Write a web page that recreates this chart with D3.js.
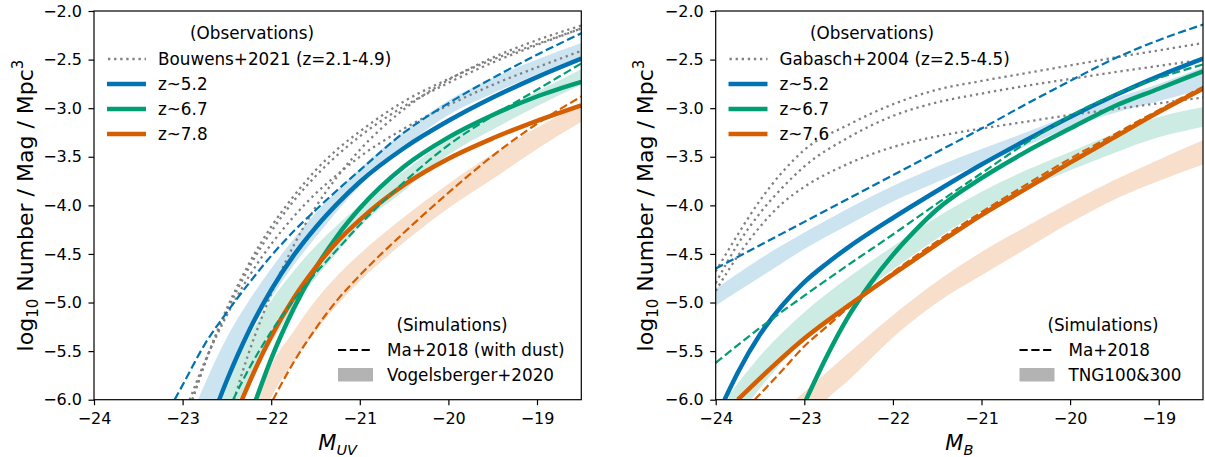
<!DOCTYPE html>
<html>
<head>
<meta charset="utf-8">
<script src="https://cdn.jsdelivr.net/npm/d3@7"></script>
<style>
  html, body { margin: 0; padding: 0; background: #fff; }
  svg { display: block; font-family: "DejaVu Sans", sans-serif; }
</style>
</head>
<body>
<svg id="chart" width="1205" height="457"></svg>
<script>
// ---------------- Left panel: UV luminosity functions (M_UV, log10 phi) ----------------
// Bouwens+2021 Schechter fits at z = 2.1, 2.9, 3.8, 4.9
const uvBouwensZ21 = [[-22.42,-6.00],[-22.35,-5.79],[-22.25,-5.51],[-22.10,-5.14],[-22.00,-4.91],[-21.75,-4.42],[-21.50,-4.02],[-21.25,-3.70],[-21.00,-3.43],[-20.50,-3.01],[-20.00,-2.71],[-19.50,-2.48],[-19.00,-2.30],[-18.50,-2.15]];
const uvBouwensZ29 = [[-22.89,-6.00],[-22.75,-5.63],[-22.50,-5.06],[-22.25,-4.60],[-22.00,-4.22],[-21.75,-3.91],[-21.50,-3.64],[-21.25,-3.42],[-21.00,-3.24],[-20.50,-2.93],[-20.00,-2.70],[-19.50,-2.50],[-19.00,-2.34],[-18.50,-2.18]];
const uvBouwensZ38 = [[-22.89,-6.00],[-22.75,-5.63],[-22.50,-5.09],[-22.25,-4.64],[-22.00,-4.27],[-21.75,-3.96],[-21.50,-3.70],[-21.25,-3.48],[-21.00,-3.29],[-20.50,-2.98],[-20.00,-2.74],[-19.50,-2.53],[-19.00,-2.35],[-18.50,-2.18]];
const uvBouwensZ49 = [[-22.92,-6.00],[-22.75,-5.61],[-22.50,-5.13],[-22.25,-4.73],[-22.00,-4.40],[-21.75,-4.12],[-21.50,-3.88],[-21.25,-3.68],[-21.00,-3.50],[-20.50,-3.21],[-20.00,-2.97],[-19.50,-2.76],[-19.00,-2.58],[-18.50,-2.41]];

// Model fits (solid)
const uvModelZ52 = [[-22.60,-6.03],[-22.50,-5.80],[-22.25,-5.29],[-22.00,-4.87],[-21.75,-4.52],[-21.50,-4.23],[-21.25,-3.98],[-21.00,-3.76],[-20.50,-3.41],[-20.00,-3.13],[-19.50,-2.89],[-19.00,-2.68],[-18.50,-2.49]];
const uvModelZ67 = [[-22.18,-6.02],[-22.00,-5.58],[-21.75,-5.07],[-21.50,-4.65],[-21.25,-4.31],[-21.00,-4.03],[-20.50,-3.60],[-20.00,-3.30],[-19.50,-3.07],[-19.00,-2.88],[-18.50,-2.73]];
const uvModelZ78 = [[-22.33,-6.00],[-22.25,-5.83],[-22.00,-5.35],[-21.75,-4.96],[-21.50,-4.64],[-21.25,-4.37],[-21.00,-4.15],[-20.50,-3.79],[-20.00,-3.52],[-19.50,-3.31],[-19.00,-3.13],[-18.50,-2.97]];

// Ma+2018 (with dust), dashed
const uvMaZ52 = [[-23.09,-6.00],[-23.00,-5.85],[-22.75,-5.43],[-22.50,-5.10],[-22.25,-4.80],[-22.00,-4.52],[-21.75,-4.27],[-21.50,-4.05],[-21.25,-3.84],[-21.00,-3.64],[-20.50,-3.25],[-20.00,-2.95],[-19.50,-2.69],[-19.00,-2.45],[-18.50,-2.23]];
const uvMaZ67 = [[-22.43,-6.00],[-22.25,-5.68],[-22.00,-5.30],[-21.75,-4.98],[-21.50,-4.70],[-21.25,-4.45],[-21.00,-4.20],[-20.50,-3.76],[-20.00,-3.38],[-19.50,-3.08],[-19.00,-2.81],[-18.50,-2.54]];
const uvMaZ78 = [[-21.98,-6.00],[-21.75,-5.62],[-21.50,-5.27],[-21.25,-4.97],[-21.00,-4.72],[-20.50,-4.28],[-20.00,-3.87],[-19.50,-3.49],[-19.00,-3.16],[-18.50,-2.88]];

// Vogelsberger+2020 ranges (upper / lower edge)
const uvVogX52  = [-22.85,-22.75,-22.50,-22.25,-22.00,-21.75,-21.50,-21.00,-20.50,-20.00,-19.50,-19.00,-18.50];
const uvVogHi52 = [-6.05,-5.84,-5.36,-4.98,-4.65,-4.35,-4.08,-3.62,-3.24,-2.92,-2.69,-2.50,-2.33];
const uvVogLo52 = [-6.50,-6.28,-5.76,-5.32,-4.95,-4.62,-4.33,-3.80,-3.40,-3.07,-2.85,-2.65,-2.47];
const uvVogX67  = [-22.60,-22.25,-22.00,-21.75,-21.50,-21.25,-21.00,-20.50,-20.00,-19.50,-19.00,-18.50];
const uvVogHi67 = [-6.05,-5.35,-4.98,-4.68,-4.42,-4.20,-4.00,-3.65,-3.32,-3.06,-2.83,-2.60];
const uvVogLo67 = [-6.50,-5.80,-5.42,-5.05,-4.75,-4.48,-4.22,-3.85,-3.48,-3.22,-2.98,-2.76];
const uvVogX78  = [-22.15,-22.00,-21.75,-21.50,-21.25,-21.00,-20.50,-20.00,-19.50,-19.00,-18.50];
const uvVogHi78 = [-6.00,-5.65,-5.30,-4.98,-4.72,-4.50,-4.12,-3.78,-3.47,-3.20,-2.96];
const uvVogLo78 = [-6.30,-5.98,-5.62,-5.30,-5.02,-4.78,-4.38,-4.03,-3.73,-3.42,-3.14];

// ---------------- Right panel: B-band luminosity functions (M_B, log10 phi) ----------------
// Gabasch+2004 fits, z = 2.5-4.5
const bGabasch1 = [[-24.00,-4.68],[-23.75,-4.30],[-23.50,-3.95],[-23.25,-3.66],[-23.00,-3.43],[-22.50,-3.17],[-22.00,-2.96],[-21.50,-2.81],[-21.00,-2.72],[-20.50,-2.64],[-20.00,-2.56],[-19.50,-2.48],[-19.00,-2.405],[-18.50,-2.33]];
const bGabasch2 = [[-24.00,-4.80],[-23.75,-4.40],[-23.50,-4.08],[-23.25,-3.82],[-23.00,-3.60],[-22.50,-3.30],[-22.00,-3.08],[-21.50,-2.94],[-21.00,-2.85],[-20.50,-2.77],[-20.00,-2.70],[-19.50,-2.63],[-19.00,-2.565],[-18.50,-2.50]];
const bGabasch3 = [[-24.00,-4.88],[-23.75,-4.52],[-23.50,-4.22],[-23.25,-3.98],[-23.00,-3.81],[-22.50,-3.57],[-22.00,-3.40],[-21.50,-3.29],[-21.00,-3.21],[-20.50,-3.14],[-20.00,-3.07],[-19.50,-3.01],[-19.00,-2.95],[-18.50,-2.89]];

const bModelZ52 = [[-23.90,-6.00],[-23.75,-5.72],[-23.50,-5.33],[-23.25,-5.03],[-23.00,-4.79],[-22.75,-4.60],[-22.50,-4.43],[-22.00,-4.13],[-21.50,-3.85],[-21.00,-3.58],[-20.50,-3.33],[-20.00,-3.09],[-19.50,-2.87],[-19.00,-2.67],[-18.50,-2.49]];
const bModelZ67 = [[-22.98,-6.00],[-22.75,-5.56],[-22.50,-5.14],[-22.25,-4.80],[-22.00,-4.51],[-21.75,-4.26],[-21.50,-4.04],[-21.00,-3.72],[-20.50,-3.45],[-20.00,-3.21],[-19.50,-2.98],[-19.00,-2.80],[-18.50,-2.62]];
const bModelZ76 = [[-23.75,-6.00],[-23.50,-5.78],[-23.00,-5.37],[-22.50,-5.03],[-22.00,-4.71],[-21.50,-4.40],[-21.00,-4.10],[-20.50,-3.83],[-20.00,-3.56],[-19.50,-3.30],[-19.00,-3.04],[-18.50,-2.80]];

const bMaZ52 = [[-24.00,-4.65],[-23.50,-4.41],[-23.00,-4.17],[-22.50,-3.93],[-22.00,-3.69],[-21.50,-3.45],[-21.00,-3.21],[-20.50,-2.96],[-20.00,-2.72],[-19.50,-2.49],[-19.00,-2.30],[-18.50,-2.14]];
const bMaZ67 = [[-24.00,-5.62],[-23.50,-5.26],[-23.00,-4.93],[-22.50,-4.61],[-22.00,-4.30],[-21.50,-3.98],[-21.00,-3.67],[-20.50,-3.36],[-20.00,-3.08],[-19.50,-2.86],[-19.00,-2.69],[-18.50,-2.55]];
const bMaZ76 = [[-23.56,-6.00],[-23.25,-5.70],[-23.00,-5.45],[-22.75,-5.25],[-22.50,-5.05],[-22.00,-4.69],[-21.50,-4.37],[-21.00,-4.07],[-20.50,-3.79],[-20.00,-3.52],[-19.50,-3.27],[-19.00,-3.02],[-18.50,-2.78]];

// TNG100&300 ranges (upper / lower edge)
const bTngX52  = [-24.00,-23.50,-23.00,-22.50,-22.00,-21.50,-21.00,-20.50,-20.00,-19.50,-19.00,-18.50];
const bTngHi52 = [-4.86,-4.55,-4.28,-4.03,-3.80,-3.60,-3.42,-3.25,-3.07,-2.90,-2.75,-2.58];
const bTngLo52 = [-5.03,-4.74,-4.45,-4.20,-3.96,-3.76,-3.57,-3.39,-3.20,-3.05,-2.93,-2.80];
const bTngX67  = [-23.85,-23.50,-23.00,-22.50,-22.00,-21.50,-21.00,-20.50,-20.00,-19.50,-19.00,-18.50];
const bTngHi67 = [-5.95,-5.55,-5.10,-4.74,-4.42,-4.12,-3.86,-3.64,-3.45,-3.26,-3.09,-2.99];
const bTngLo67 = [-6.30,-5.88,-5.38,-5.00,-4.66,-4.34,-4.06,-3.84,-3.64,-3.46,-3.30,-3.19];
const bTngX76  = [-23.10,-22.75,-22.50,-22.00,-21.50,-21.00,-20.50,-20.00,-19.50,-19.00,-18.50];
const bTngHi76 = [-6.00,-5.72,-5.52,-5.13,-4.78,-4.48,-4.22,-3.97,-3.74,-3.53,-3.33];
const bTngLo76 = [-6.40,-6.00,-5.80,-5.36,-5.00,-4.72,-4.45,-4.18,-3.94,-3.75,-3.58];

// Axis ticks
const xTicks = [-24, -23, -22, -21, -20, -19];
const yTicks = [-6.0, -5.5, -5.0, -4.5, -4.0, -3.5, -3.0, -2.5, -2.0];

// Colours
const BLUE = "#0173b2", GREEN = "#029e73", ORANGE = "#d55e00", GREY = "#808080";

const svg = d3.select("#chart");
const FONT = "DejaVu Sans";
const LEGEND_FS = 16.8;

function zip(xs, hi, lo) { return xs.map((x, i) => ({ x, hi: hi[i], lo: lo[i] })); }

function drawPanel(cfg) {
  const x = d3.scaleLinear().domain([-24, -18.5]).range([cfg.left, cfg.right]);
  const y = d3.scaleLinear().domain([-6, -2]).range([399.7, 11]);
  const g = svg.append("g");
  const clipId = "clip-" + cfg.id;

  g.append("clipPath").attr("id", clipId)
    .append("rect").attr("x", cfg.left).attr("y", 11)
    .attr("width", cfg.right - cfg.left).attr("height", 399.7 - 11);

  const plot = g.append("g").attr("clip-path", `url(#${clipId})`);

  const area = d3.area().x(d => x(d.x)).y0(d => y(d.lo)).y1(d => y(d.hi)).curve(d3.curveMonotoneX);
  const line = d3.line().x(d => x(d[0])).y(d => y(d[1])).curve(d3.curveMonotoneX);

  // simulation ranges
  cfg.bands.forEach(b => {
    plot.append("path").attr("d", area(b.data))
      .attr("fill", b.color).attr("fill-opacity", 0.2).attr("stroke", "none");
  });
  // observational fits
  cfg.dotted.forEach(d => {
    plot.append("path").attr("d", line(d)).attr("fill", "none")
      .attr("stroke", GREY).attr("stroke-width", 2.3).attr("stroke-dasharray", "2.3,3.8");
  });
  // model fits
  cfg.solid.forEach(s => {
    plot.append("path").attr("d", line(s.data)).attr("fill", "none")
      .attr("stroke", s.color).attr("stroke-width", 4.5);
  });
  // Ma+2018
  cfg.dashed.forEach(s => {
    plot.append("path").attr("d", line(s.data)).attr("fill", "none")
      .attr("stroke", s.color).attr("stroke-width", 2.2).attr("stroke-dasharray", "8.2,3.6");
  });

  // axes
  const xAxis = d3.axisBottom(x).tickValues(xTicks).tickFormat(d3.format("d"))
    .tickSize(5.5).tickPadding(7.5).tickSizeOuter(0);
  const yAxis = d3.axisLeft(y).tickValues(yTicks).tickFormat(d3.format(".1f"))
    .tickSize(5.5).tickPadding(6.5).tickSizeOuter(0);
  const gx = g.append("g").attr("transform", "translate(0,399.7)").call(xAxis);
  const gy = g.append("g").attr("transform", `translate(${cfg.left},0)`).call(yAxis);
  [gx, gy].forEach(a => {
    a.select(".domain").remove();
    a.selectAll(".tick line").attr("stroke", "#000").attr("stroke-width", 1.2);
    a.selectAll(".tick text").attr("fill", "#000").attr("font-size", 16).attr("font-family", FONT);
    a.attr("font-family", FONT);
  });

  // frame
  g.append("rect").attr("x", cfg.left).attr("y", 11)
    .attr("width", cfg.right - cfg.left).attr("height", 399.7 - 11)
    .attr("fill", "none").attr("stroke", "#000").attr("stroke-width", 1.2);

  // y label
  const yl = g.append("text")
    .attr("transform", `translate(${cfg.ylabelX},205.5) rotate(-90)`)
    .attr("text-anchor", "middle").attr("font-size", 22).attr("fill", "#000");
  yl.append("tspan").text("log");
  yl.append("tspan").attr("font-size", 15).attr("dy", 5).text("10");
  yl.append("tspan").attr("dy", -5).text(" Number / Mag / Mpc");
  yl.append("tspan").attr("font-size", 15).attr("dy", -9.5).text("3");

  // x label
  const xl = g.append("text")
    .attr("x", (cfg.left + cfg.right) / 2).attr("y", 450)
    .attr("text-anchor", "middle").attr("font-size", 21).attr("font-style", "italic").attr("fill", "#000");
  xl.append("tspan").text("M");
  xl.append("tspan").attr("font-size", 14.5).attr("dy", 5).text(cfg.xsub);

  // observations legend
  const lg = g.append("g").attr("font-size", LEGEND_FS).attr("fill", "#000");
  lg.append("text").attr("x", cfg.obsTitleX).attr("y", 39).attr("text-anchor", "middle").text("(Observations)");
  const entries = [
    { label: cfg.obsLabel, color: GREY, dotted: true },
    { label: "z~5.2", color: BLUE },
    { label: "z~6.7", color: GREEN },
    { label: cfg.z3Label, color: ORANGE }
  ];
  entries.forEach((e, i) => {
    const yy = 59 + 25 * i;
    const ln = lg.append("line").attr("x1", cfg.handleX0).attr("x2", cfg.handleX0 + 39)
      .attr("y1", yy).attr("y2", yy).attr("stroke", e.color);
    if (e.dotted) ln.attr("stroke-width", 2.3).attr("stroke-dasharray", "2.3,3.8").attr("x1", cfg.handleX0 + 1);
    else ln.attr("stroke-width", 4.5);
    lg.append("text").attr("x", cfg.handleX0 + 51).attr("y", yy + 6).text(e.label);
  });

  // simulations legend
  const sg = g.append("g").attr("font-size", LEGEND_FS).attr("fill", "#000");
  sg.append("text").attr("x", cfg.simTitleX).attr("y", 331).attr("text-anchor", "middle").text("(Simulations)");
  sg.append("line").attr("x1", cfg.simHandleX).attr("x2", cfg.simHandleX + 35)
    .attr("y1", 350).attr("y2", 350).attr("stroke", "#000").attr("stroke-width", 2.2)
    .attr("stroke-dasharray", "8.2,3.6");
  sg.append("text").attr("x", cfg.simHandleX + 49).attr("y", 356).text(cfg.maLabel);
  sg.append("rect").attr("x", cfg.simHandleX).attr("y", 368).attr("width", 35).attr("height", 13.5)
    .attr("fill", "#b3b3b3");
  sg.append("text").attr("x", cfg.simHandleX + 49).attr("y", 381).text(cfg.bandLabel);
}

drawPanel({
  id: "uv", left: 94, right: 581.3, ylabelX: 32.5, xsub: "UV",
  obsTitleX: 252, obsLabel: "Bouwens+2021 (z=2.1-4.9)", z3Label: "z~7.8", handleX0: 107,
  simTitleX: 452, simHandleX: 338, maLabel: "Ma+2018 (with dust)", bandLabel: "Vogelsberger+2020",
  bands: [
    { data: zip(uvVogX52, uvVogHi52, uvVogLo52), color: BLUE },
    { data: zip(uvVogX67, uvVogHi67, uvVogLo67), color: GREEN },
    { data: zip(uvVogX78, uvVogHi78, uvVogLo78), color: ORANGE }
  ],
  dotted: [uvBouwensZ21, uvBouwensZ29, uvBouwensZ38, uvBouwensZ49],
  solid: [
    { data: uvModelZ52, color: BLUE },
    { data: uvModelZ67, color: GREEN },
    { data: uvModelZ78, color: ORANGE }
  ],
  dashed: [
    { data: uvMaZ52, color: BLUE },
    { data: uvMaZ67, color: GREEN },
    { data: uvMaZ78, color: ORANGE }
  ]
});

drawPanel({
  id: "b", left: 715.7, right: 1203, ylabelX: 653, xsub: "B",
  obsTitleX: 872, obsLabel: "Gabasch+2004 (z=2.5-4.5)", z3Label: "z~7.6", handleX0: 728.5,
  simTitleX: 1103, simHandleX: 1019.5, maLabel: "Ma+2018", bandLabel: "TNG100&300",
  bands: [
    { data: zip(bTngX52, bTngHi52, bTngLo52), color: BLUE },
    { data: zip(bTngX67, bTngHi67, bTngLo67), color: GREEN },
    { data: zip(bTngX76, bTngHi76, bTngLo76), color: ORANGE }
  ],
  dotted: [bGabasch1, bGabasch2, bGabasch3],
  solid: [
    { data: bModelZ52, color: BLUE },
    { data: bModelZ67, color: GREEN },
    { data: bModelZ76, color: ORANGE }
  ],
  dashed: [
    { data: bMaZ52, color: BLUE },
    { data: bMaZ67, color: GREEN },
    { data: bMaZ76, color: ORANGE }
  ]
});
</script>
</body>
</html>
